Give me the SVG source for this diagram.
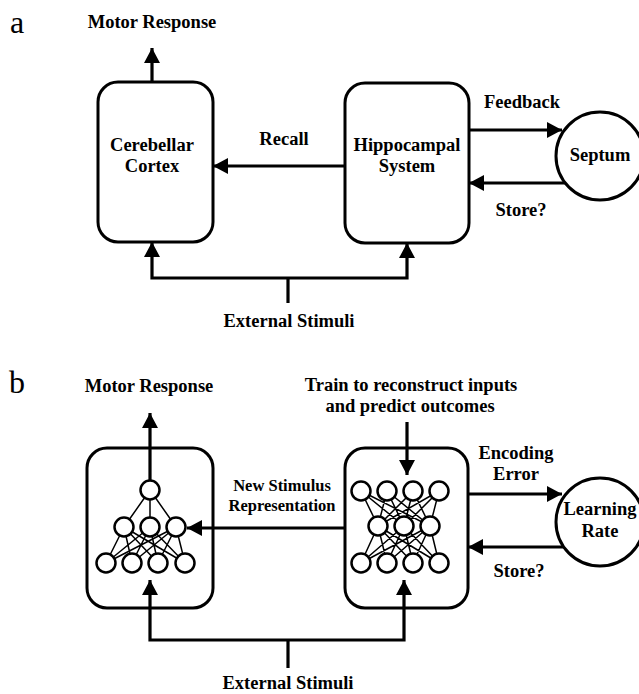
<svg xmlns="http://www.w3.org/2000/svg" width="639" height="694" viewBox="0 0 639 694">
<defs>
<marker id="ah" markerUnits="userSpaceOnUse" markerWidth="16" markerHeight="16" refX="15" refY="8" orient="auto">
<path d="M0,0 L15,8 L0,16 z" fill="#000"/>
</marker>
<style>
.t{font-family:"Liberation Serif","Times New Roman",serif;font-weight:bold;font-size:18.5px;fill:#000;text-anchor:middle}
.s{font-size:16.5px}
.lbl{font-family:"Liberation Serif","Times New Roman",serif;font-size:32px;fill:#000}
.box{fill:none;stroke:#000;stroke-width:3}
.circ{fill:#fff;stroke:#000;stroke-width:3}
.c{fill:none;stroke:#000;stroke-width:3.2}
.ca{fill:none;stroke:#000;stroke-width:3.2;marker-end:url(#ah)}
.nl{stroke:#000;stroke-width:1.5;fill:none}
.nn{fill:#fff;stroke:#000;stroke-width:2.5}
</style>
</defs>
<rect width="639" height="694" fill="#fff"/>

<text class="lbl" x="10" y="33">a</text>
<text class="lbl" x="9" y="393">b</text>

<g id="labels">
<text class="t" x="152" y="28">Motor Response</text>
<text class="t" x="284" y="145">Recall</text>
<text class="t" x="522" y="108">Feedback</text>
<text class="t" x="521" y="216">Store?</text>
<text class="t" x="289" y="327">External Stimuli</text>
<text class="t" x="149" y="392">Motor Response</text>
<text class="t" x="411" y="391">Train to reconstruct inputs</text>
<text class="t" x="410" y="412">and predict outcomes</text>
<text class="t s" x="282" y="491">New Stimulus</text>
<text class="t s" x="282" y="511">Representation</text>
<text class="t" x="516" y="459">Encoding</text>
<text class="t" x="516" y="480">Error</text>
<text class="t" x="519" y="577">Store?</text>
<text class="t" x="288" y="689">External Stimuli</text>
</g>

<g id="cerebellar-cortex">
<rect class="box" x="98" y="82" width="115" height="160" rx="20"/>
<text class="t" x="152" y="151">Cerebellar</text>
<text class="t" x="152" y="172">Cortex</text>
</g>
<g id="hippocampal-system">
<rect class="box" x="345" y="83" width="124" height="160" rx="20"/>
<text class="t" x="407" y="151">Hippocampal</text>
<text class="t" x="407" y="172">System</text>
</g>
<g id="septum">
<circle class="circ" cx="600" cy="156" r="44"/>
<text class="t" x="600" y="161">Septum</text>
</g>

<g id="cortex-net">
<rect class="box" x="87" y="448" width="126" height="160" rx="20"/>
<path class="nl" d="M150,490 L124,527 M150,490 L150,527 M150,490 L176,527
M124,527 L106,563 M124,527 L132,563 M124,527 L158,563 M124,527 L185,563
M150,527 L106,563 M150,527 L132,563 M150,527 L158,563 M150,527 L185,563
M176,527 L106,563 M176,527 L132,563 M176,527 L158,563 M176,527 L185,563"/>
<circle class="nn" cx="150" cy="490" r="9.5"/>
<circle class="nn" cx="124" cy="527" r="9.5"/>
<circle class="nn" cx="150" cy="527" r="9.5"/>
<circle class="nn" cx="176" cy="527" r="9.5"/>
<circle class="nn" cx="106" cy="563" r="9.5"/>
<circle class="nn" cx="132" cy="563" r="9.5"/>
<circle class="nn" cx="158" cy="563" r="9.5"/>
<circle class="nn" cx="185" cy="563" r="9.5"/>
</g>

<g id="hippocampal-net">
<rect class="box" x="345" y="448" width="123" height="160" rx="20"/>
<path class="nl" d="M361,491 L378,526 M361,491 L404,526 M361,491 L430,526
M387,491 L378,526 M387,491 L404,526 M387,491 L430,526
M413,491 L378,526 M413,491 L404,526 M413,491 L430,526
M439,491 L378,526 M439,491 L404,526 M439,491 L430,526
M378,526 L361,563 M378,526 L387,563 M378,526 L413,563 M378,526 L439,563
M404,526 L361,563 M404,526 L387,563 M404,526 L413,563 M404,526 L439,563
M430,526 L361,563 M430,526 L387,563 M430,526 L413,563 M430,526 L439,563"/>
<circle class="nn" cx="361" cy="491" r="9.5"/>
<circle class="nn" cx="387" cy="491" r="9.5"/>
<circle class="nn" cx="413" cy="491" r="9.5"/>
<circle class="nn" cx="439" cy="491" r="9.5"/>
<circle class="nn" cx="378" cy="526" r="9.5"/>
<circle class="nn" cx="404" cy="526" r="9.5"/>
<circle class="nn" cx="430" cy="526" r="9.5"/>
<circle class="nn" cx="361" cy="563" r="9.5"/>
<circle class="nn" cx="387" cy="563" r="9.5"/>
<circle class="nn" cx="413" cy="563" r="9.5"/>
<circle class="nn" cx="439" cy="563" r="9.5"/>
</g>

<g id="learning-rate">
<circle class="circ" cx="600" cy="522" r="44"/>
<text class="t" x="600" y="515">Learning</text>
<text class="t" x="600" y="537">Rate</text>
</g>

<g id="connectors">
<path class="ca" d="M152,82 V48"/>
<path class="ca" d="M345,166 H213"/>
<path class="ca" d="M469,130 H562"/>
<path class="ca" d="M565,183 H469"/>
<path class="ca" d="M288,278 H152 V242"/>
<path class="ca" d="M288,278 H407 V243"/>
<path class="c" d="M288,278 V303"/>

<path class="ca" d="M150,480 V413"/>
<path class="ca" d="M407,422 V475"/>
<path class="ca" d="M345,528 H187"/>
<path class="ca" d="M468,494 H562"/>
<path class="ca" d="M564,547 H468"/>
<path class="ca" d="M288,640 H150 V580"/>
<path class="ca" d="M288,640 H404 V580"/>
<path class="c" d="M288,640 V668"/>
</g>
</svg>
